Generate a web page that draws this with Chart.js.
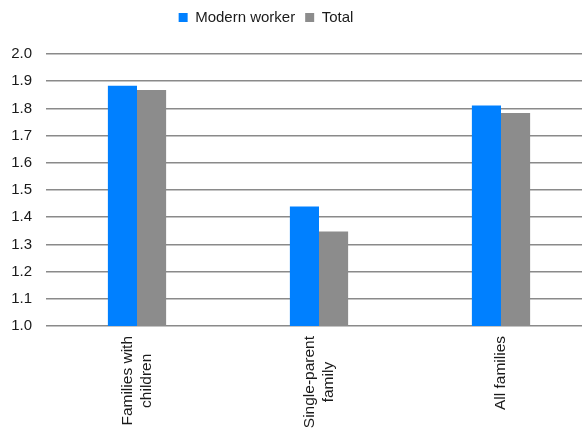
<!DOCTYPE html>
<html>
<head>
<meta charset="utf-8">
<script src="https://cdn.jsdelivr.net/npm/chart.js@4/dist/chart.umd.min.js"></script>
<style>
html,body{margin:0;padding:0;background:#fff;overflow:hidden;width:582px;height:430px;}
#wrap{width:592px;height:430px;position:relative;}
</style>
</head>
<body>
<div id="wrap"><canvas id="c" width="592" height="430"></canvas></div>
<script>
const categories = [["Families with","children"],["Single-parent","family"],["All families"]];
const seriesNames = ["Modern worker","Total"];
const modernWorker = [1.883, 1.439, 1.811];
const total = [1.868, 1.347, 1.783];
const yTicks = [1.0,1.1,1.2,1.3,1.4,1.5,1.6,1.7,1.8,1.9,2.0];

const FONT = "'Liberation Sans', Arial, sans-serif";
const TEXT = '#1a1a1a';

const layoutPlugin = {
  id: 'layoutTweaks',
  beforeInit(chart) {
    const lg = chart.legend;
    if (lg) {
      const orig = lg.fit;
      lg.fit = function() { orig.call(this); this.height = 54; };
    }
  },
  afterLayout(chart) {
    const lg = chart.legend;
    if (lg) { lg.left -= 30; lg.right -= 30; }
  },
  afterDraw(chart) {
    const xs = chart.scales.x;
    const ctx = chart.ctx;
    ctx.save();
    ctx.font = '15.5px ' + FONT;
    ctx.fillStyle = TEXT;
    ctx.textAlign = 'center';
    ctx.textBaseline = 'middle';
    const lh = 19.5;
    categories.forEach((lab, i) => {
      const lines = Array.isArray(lab) ? lab : [lab];
      const x = xs.getPixelForTick(i);
      const wmax = Math.max(...lines.map(l => ctx.measureText(l).width));
      ctx.save();
      ctx.translate(x, xs.top + 10);
      ctx.rotate(-Math.PI / 2);
      lines.forEach((l, j) => {
        const off = (j - (lines.length - 1) / 2) * lh;
        ctx.fillText(l, -wmax / 2, off);
      });
      ctx.restore();
    });
    ctx.restore();
  }
};

new Chart(document.getElementById('c'), {
  type: 'bar',
  data: {
    labels: categories,
    datasets: [
      { label: seriesNames[0], data: modernWorker, backgroundColor: '#0080ff', borderWidth: 0 },
      { label: seriesNames[1], data: total, backgroundColor: '#8c8c8c', borderWidth: 0 }
    ]
  },
  options: {
    responsive: false,
    animation: false,
    devicePixelRatio: 1,
    layout: { padding: { left: 0, right: 0, top: 0, bottom: 0 } },
    datasets: { bar: { barPercentage: 1.0, categoryPercentage: 0.32 } },
    plugins: {
      legend: {
        position: 'top',
        labels: {
          boxWidth: 9, boxHeight: 9, padding: 10,
          font: { family: FONT, size: 15 }, color: TEXT
        }
      },
      tooltip: { enabled: false }
    },
    scales: {
      x: {
        grid: { display: false },
        border: { display: false },
        ticks: { display: false },
        afterFit(s) { s.height = 104; }
      },
      y: {
        min: 1.0, max: 2.0,
        afterBuildTicks(s) { s.ticks = yTicks.map(v => ({ value: v })); },
        afterFit(s) { s.width = 46; },
        border: { display: false },
        grid: { color: '#8a8a8a', lineWidth: 1.6, drawTicks: false },
        ticks: {
          padding: 14, color: TEXT,
          font: { family: FONT, size: 15 },
          callback: v => Number(v).toFixed(1)
        }
      }
    }
  },
  plugins: [layoutPlugin]
});
</script>
</body>
</html>
